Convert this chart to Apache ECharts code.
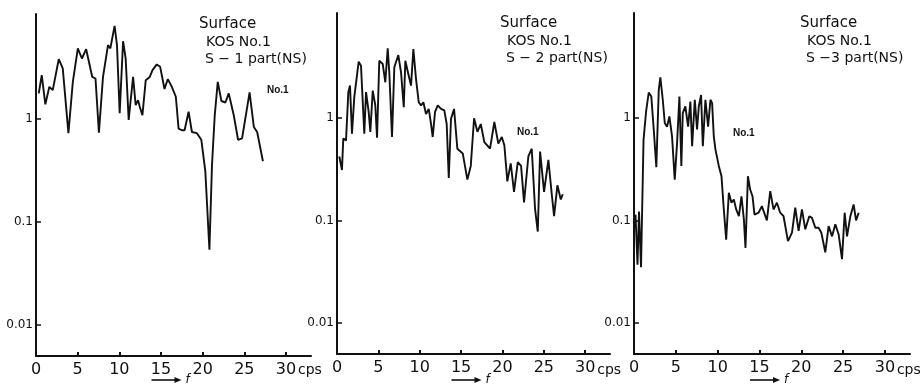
<!DOCTYPE html>
<html>
<head>
<meta charset="utf-8">
<script src="https://cdn.jsdelivr.net/npm/echarts@6/dist/echarts.min.js"></script>
<style>
  html, body { margin: 0; background: #fff; }
  #chart { width: 920px; height: 384px; }
</style>
</head>
<body>
<div id="chart"></div>
<script>
// frequency (cps) / amplitude pairs
const f1 = [0.33,0.69,1.12,1.60,2.01,2.73,3.21,3.89,4.42,5.02,5.51,6.02,6.75,7.14,7.55,8.04,8.23,8.64,8.92,9.43,9.72,10.04,10.45,10.76,11.12,11.65,11.96,12.25,12.45,12.77,13.17,13.65,13.98,14.49,14.90,15.42,15.82,16.30,16.78,17.11,17.51,17.83,18.31,18.71,19.31,19.84,20.32,20.81,21.12,21.45,21.81,22.25,22.73,23.13,23.73,24.25,24.73,25.63,26.14,26.54,27.23]
const a1 = [1.78,2.67,1.39,2.06,1.91,3.82,3.11,0.73,2.30,4.86,3.88,4.78,2.57,2.48,0.74,2.57,2.67,5.23,4.86,8.05,5.23,1.14,5.71,3.88,0.98,2.57,1.37,1.53,1.32,1.09,2.39,2.57,2.99,3.40,3.22,1.96,2.45,2.06,1.65,0.81,0.78,0.78,1.18,0.75,0.73,0.63,0.31,0.054,0.36,1.09,2.30,1.50,1.45,1.78,1.09,0.63,0.65,1.82,0.84,0.75,0.39]

const f2 = [0.28,0.60,0.76,1.09,1.37,1.57,1.81,2.09,2.62,2.90,3.30,3.51,3.83,4.03,4.32,4.63,4.84,5.11,5.53,5.84,6.13,6.32,6.65,6.93,7.41,7.74,8.07,8.26,8.67,8.95,9.23,9.55,9.88,10.16,10.44,10.76,11.09,11.37,11.57,11.85,12.18,12.58,12.97,13.26,13.51,13.78,14.15,14.55,15.20,15.76,16.17,16.57,16.97,17.38,17.81,18.50,19.02,19.50,19.92,20.23,20.59,21.00,21.40,21.85,22.25,22.61,23.13,23.54,23.94,24.27,24.55,25.03,25.55,25.96,26.24,26.64,27.05,27.29]
const a2 = [0.42,0.31,0.63,0.60,1.78,2.06,0.70,1.59,3.52,3.22,0.70,1.78,1.14,0.73,1.84,1.32,0.64,3.60,3.34,2.22,4.75,2.78,0.65,3.11,4.09,2.78,1.27,3.60,2.57,2.06,4.68,2.39,1.42,1.32,1.42,1.09,1.22,0.87,0.65,1.14,1.32,1.22,1.18,0.87,0.26,0.98,1.22,0.50,0.45,0.25,0.34,0.99,0.73,0.87,0.58,0.50,0.91,0.56,0.65,0.54,0.24,0.36,0.19,0.37,0.34,0.15,0.42,0.50,0.13,0.078,0.47,0.19,0.39,0.18,0.11,0.22,0.16,0.18]

const f3 = [0.18,0.42,0.60,0.84,1.14,1.44,1.76,2.07,2.36,2.67,2.96,3.15,3.44,3.68,3.95,4.23,4.55,4.87,5.15,5.43,5.66,5.83,6.14,6.47,6.74,6.95,7.27,7.54,7.75,8.02,8.23,8.54,8.86,9.14,9.34,9.54,9.74,10.14,10.46,10.74,11.02,11.34,11.65,11.94,12.22,12.54,12.85,13.14,13.33,13.62,13.89,14.17,14.41,14.89,15.29,15.89,16.29,16.68,17.09,17.48,17.88,18.41,18.89,19.28,19.68,20.08,20.48,20.96,21.28,21.68,22.07,22.40,22.87,23.27,23.68,24.07,24.47,24.87,25.19,25.47,25.87,26.26,26.55,26.86]
const a3 = [0.114,0.037,0.122,0.035,0.61,1.14,1.76,1.61,0.77,0.33,1.87,2.48,1.50,0.89,0.82,1.03,0.66,0.25,0.57,1.61,0.34,1.11,1.29,0.82,1.44,0.53,1.50,0.77,1.29,1.67,0.53,1.50,0.82,1.50,1.39,0.66,0.49,0.34,0.27,0.128,0.065,0.186,0.149,0.16,0.128,0.110,0.172,0.102,0.054,0.27,0.20,0.172,0.114,0.119,0.138,0.10,0.193,0.128,0.149,0.119,0.110,0.063,0.076,0.133,0.079,0.128,0.082,0.110,0.106,0.085,0.085,0.076,0.049,0.088,0.070,0.092,0.073,0.042,0.119,0.070,0.110,0.143,0.10,0.119]

const xTicks = [0, 5, 10, 15, 20, 25, 30]
const yTicks = [0.01, 0.1, 1]
const yTickLabels = ['0.01', '0.1', '1']
const partNames = ['S − 1 part(NS)', 'S − 2 part(NS)', 'S −3 part(NS)']

const ink = '#111'
const fam = '"DejaVu Sans", sans-serif'

const grids = [
  {left: 36, top: 14, width: 275, height: 342},
  {left: 337, top: 13, width: 273, height: 341},
  {left: 634, top: 13, width: 276, height: 341},
]
// where the caption block and the "No.1" tag sit in each panel
const captions = [
  {x: 199, y: 24, tagX: 267, tagY: 90},
  {x: 500, y: 23, tagX: 517, tagY: 132},
  {x: 800, y: 23, tagX: 733, tagY: 133},
]

const zip = (f, a) => f.map((v, i) => [v, a[i]])
const seriesData = [zip(f1, a1), zip(f2, a2), zip(f3, a3)]

const yLabel = v => {
  const i = yTicks.findIndex(t => Math.abs(Math.log10(t) - Math.log10(v)) < 0.01)
  return i < 0 ? '' : yTickLabels[i]
}

const txt = (x, y, text, font) => ({
  type: 'text', x, y,
  style: {text, font, fill: ink, verticalAlign: 'middle'}
})

const graphic = []
grids.forEach((g, i) => {
  const c = captions[i]
  graphic.push(txt(c.x, c.y, 'Surface', '15px ' + fam))
  graphic.push(txt(c.x + 7, c.y + 18, 'KOS No.1', '14px ' + fam))
  graphic.push(txt(c.x + 6, c.y + 35, partNames[i], '14px ' + fam))
  graphic.push(txt(c.tagX, c.tagY, 'No.1', 'bold 10px "Liberation Sans", sans-serif'))
  // unit after the 30 label
  const px30 = g.left + 30 * g.width / 33
  graphic.push(txt(px30 + 12, 370, 'cps', '14px ' + fam))
  // "──→ f" under the axis
  const cx = g.left + g.width / 2
  graphic.push({type: 'line', shape: {x1: cx - 22, y1: 380, x2: cx + 3, y2: 380},
    style: {stroke: ink, lineWidth: 1.6}})
  graphic.push({type: 'polygon', shape: {points: [[cx + 8, 380], [cx + 1, 377], [cx + 1, 383]]},
    style: {fill: ink}})
  graphic.push(txt(cx + 12, 380, 'f', 'italic 12px ' + fam))
})

const chart = echarts.init(document.getElementById('chart'))
chart.setOption({
  animation: false,
  backgroundColor: '#fff',
  grid: grids,
  xAxis: grids.map((g, i) => ({
    gridIndex: i,
    type: 'value',
    min: 0,
    max: 33,
    interval: 5,
    axisLine: {onZero: false, lineStyle: {color: ink, width: 2}},
    axisTick: {inside: true, length: 4, customValues: xTicks, lineStyle: {color: ink, width: 2}},
    axisLabel: {customValues: xTicks, color: ink, fontSize: 16, fontFamily: fam, margin: 6},
    splitLine: {show: false},
  })),
  yAxis: grids.map((g, i) => ({
    gridIndex: i,
    type: 'log',
    logBase: 10,
    min: 0.005,
    max: 10.5,
    axisLine: {show: true, onZero: false, lineStyle: {color: ink, width: 2}},
    axisTick: {show: true, inside: true, length: 5, customValues: yTicks, lineStyle: {color: ink, width: 1.5}},
    axisLabel: {customValues: yTicks, formatter: yLabel, color: ink, fontSize: 12, fontFamily: fam, margin: 3},
    splitLine: {show: false},
  })),
  series: seriesData.map((d, i) => ({
    type: 'line',
    xAxisIndex: i,
    yAxisIndex: i,
    data: d,
    symbol: 'none',
    lineStyle: {color: ink, width: 1.9},
  })),
  graphic,
})
</script>
</body>
</html>
